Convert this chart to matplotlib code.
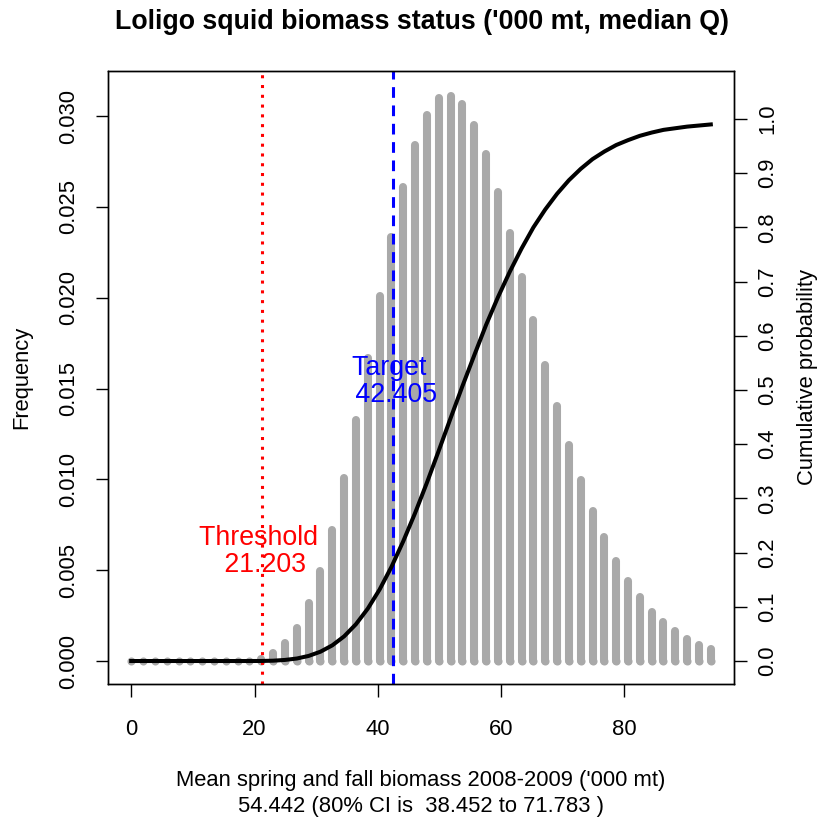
import numpy as np
import matplotlib
matplotlib.use("Agg")
import matplotlib.pyplot as plt

plt.rcParams['font.family'] = ['Liberation Sans', 'DejaVu Sans']

# ----------------- data -----------------
bin_step = 94.0 / 49
biomass = np.arange(50) * bin_step  # bar positions, '000 mt

frequency = [
    0, 0, 0, 0, 0, 0, 0, 0, 0, 0, 0,
    0.00011, 0.00042, 0.00097, 0.00182, 0.00318, 0.00497, 0.00721, 0.0101, 0.01327,
    0.01668, 0.02011, 0.02334, 0.02611, 0.02842, 0.03005, 0.03099, 0.03112, 0.03066,
    0.0295, 0.0279, 0.02582, 0.02356, 0.02114, 0.01877, 0.01629, 0.01404, 0.01189,
    0.00996, 0.00826, 0.00683, 0.0055, 0.00443, 0.00352, 0.00271, 0.00215, 0.00167,
    0.00121, 0.00088, 0.00066,
]

cumulative = [
    0, 0, 0, 0, 0, 0, 0, 0, 0, 0, 0,
    0.0001, 0.0006, 0.002, 0.0046, 0.0094, 0.0172, 0.0289, 0.0455, 0.0679,
    0.0966, 0.1319, 0.1736, 0.221, 0.273, 0.329, 0.388, 0.448, 0.507,
    0.564, 0.620, 0.671, 0.718, 0.761, 0.800, 0.833, 0.862, 0.887,
    0.908, 0.926, 0.940, 0.952, 0.961, 0.969, 0.975, 0.980, 0.983,
    0.986, 0.988, 0.990,
]

threshold = 21.203
target = 42.405
median_b = 54.442
ci_lo, ci_hi = 38.452, 71.783

bar_col = "#A9A9A9"
fs = 15.8

# ----------------- figure -----------------
fig = plt.figure(figsize=(8.25, 8.25), dpi=100)
ax = fig.add_axes([108 / 825, 1 - 684 / 825, (734 - 108) / 825, (684 - 71) / 825])

lc = ax.vlines(biomass, 0, frequency, colors=bar_col, linewidth=5.8)
lc.set_capstyle("round")
ax.plot(biomass, np.zeros(len(biomass)), "o", color=bar_col, markersize=5.8,
        markeredgewidth=0)

ax.axvline(threshold, color="red", linestyle=(0, (1, 2.2)), linewidth=2.2)
ax.axvline(target, color="blue", linestyle=(0, (3.5, 2.5)), linewidth=2.2)

ax.text(threshold, 0.00605, "Threshold \n %.3f" % threshold, color="red",
        fontsize=19.3, ha="center", va="center", linespacing=1.05)
ax.text(target, 0.0154, "Target \n %.3f" % target, color="blue",
        fontsize=19.3, ha="center", va="center", linespacing=1.05)

ax.set_xlim(-3.76, 97.76)
ax.set_ylim(-0.001266, 0.03248)
ax.set_xticks([0, 20, 40, 60, 80])
ax.set_yticks([0, 0.005, 0.010, 0.015, 0.020, 0.025, 0.030])
ax.set_yticklabels(["%.3f" % v for v in ax.get_yticks()])

ax2 = ax.twinx()
ax2.plot(biomass, cumulative, color="black", linewidth=2.9)
ax2.set_ylim(-0.0424, 1.0886)
ax2.set_yticks(np.round(np.arange(0, 1.01, 0.1), 1))
ax2.set_yticklabels(["%.1f" % v for v in ax2.get_yticks()])

for a in (ax, ax2):
    a.tick_params(direction="out", length=9, width=1.0, labelsize=fs, color="black")
    for s in a.spines.values():
        s.set_linewidth(1.0)
ax.tick_params(axis="x", pad=16)
ax.tick_params(axis="y", pad=12)
ax2.tick_params(axis="y", pad=8)
for lab in ax.get_yticklabels():
    lab.set_rotation(90)
    lab.set_va("center")
for lab in ax2.get_yticklabels():
    lab.set_rotation(90)
    lab.set_va("center")

fig.text(422 / 825, 1 - 22 / 825, "Loligo squid biomass status ('000 mt, median Q)",
         fontsize=19.3, fontweight="bold", ha="center", va="center")
fig.text(22 / 825, 1 - 377.5 / 825, "Frequency", fontsize=fs, rotation=90,
         ha="center", va="center")
fig.text(808 / 825, 1 - 377.5 / 825, "Cumulative probability", fontsize=fs,
         rotation=90, ha="center", va="center")
fig.text(421 / 825, 1 - 793.5 / 825,
         "Mean spring and fall biomass 2008-2009 ('000 mt)\n"
         "%.3f (80%% CI is  %.3f to %.3f )" % (median_b, ci_lo, ci_hi),
         fontsize=fs, ha="center", va="center", linespacing=1.29)

fig.savefig("out.png", dpi=100)
